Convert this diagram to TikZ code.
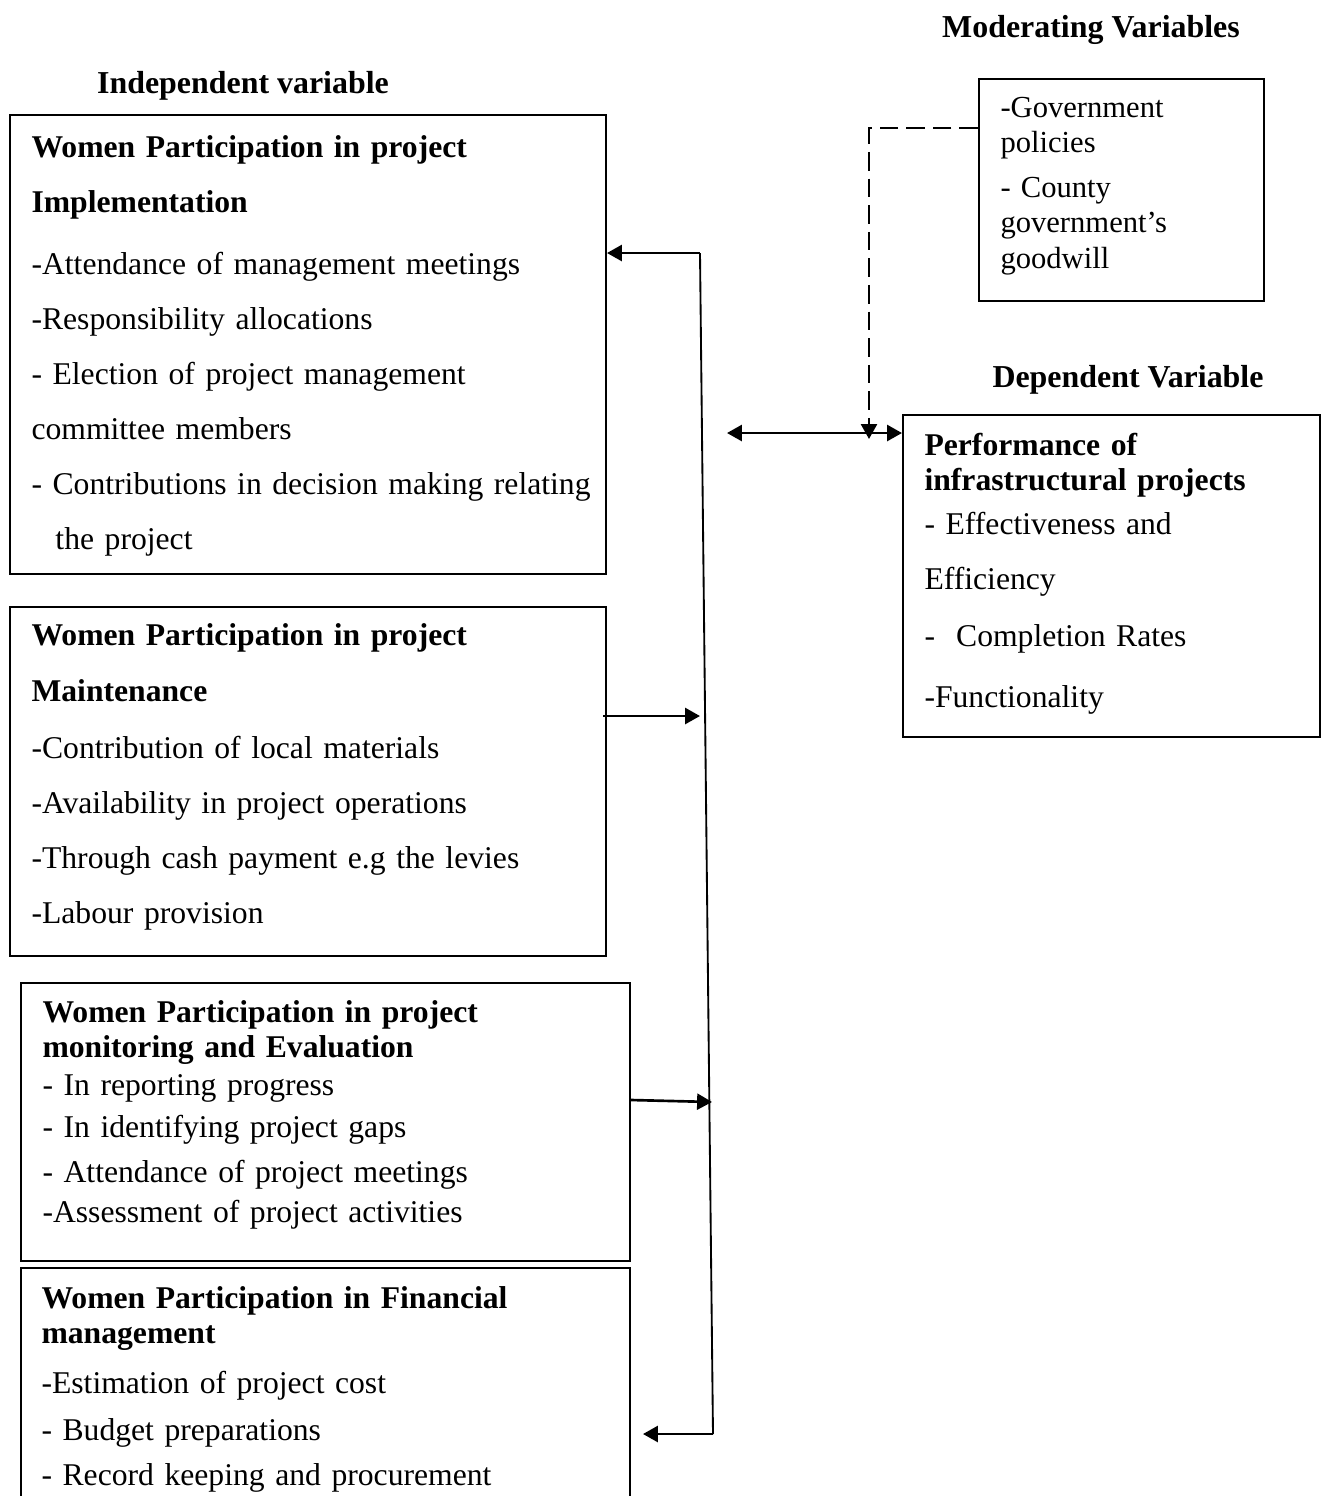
\documentclass[tikz,border=0pt]{standalone}
\usepackage{fontspec}
\setmainfont{Liberation Serif}
\usetikzlibrary{arrows.meta,fit}
\begin{document}
\begin{tikzpicture}[x = 0.376pt, y = -0.376pt]
\tikzstyle{mybox} = [draw, line width = 0.75pt, inner sep = 0 pt]
\tikzstyle{mytext} = [inner sep = 0 pt, anchor = base west, align = left, text width = 240pt, font = \fontsize{11.9}{20.7}\selectfont]
\tikzstyle{mytitle} = [inner sep = 0 pt, anchor = base, font = \fontsize{12}{14}\selectfont\bfseries]
\tikzset{myarrow/.style = {line width = 1pt, -{Triangle[length = 5.6pt, width = 6pt]}}, myline/.style = {line width = 0.7pt}, mydash/.style = {myarrow, line width = 0.9pt, dash pattern = on 7pt off 3pt}}
\clip (0,0) rectangle (1327,1496);

\node [mytitle] (indep) at (243,93) {Independent variable};
\node [mytitle] (moder) at (1091,37) {Moderating Variables};
\node [mytitle] (depen) at (1128,387) {Dependent Variable};

\node [mybox, fit = {(10,115) (606,574)}] (impl) {};
\node [mybox, fit = {(10,607) (606,956)}] (maint) {};
\node [mybox, fit = {(21,983) (630,1261)}] (me) {};
\node [mybox, fit = {(21,1268) (630,1510)}] (fin) {};
\node [mybox, fit = {(903,415) (1320,737)}] (perf) {};
\node [mybox, fit = {(979,79) (1264,301)}] (mod) {};

\node [mytext] (impltext) at (31,157) {\textbf{Women Participation in project}\\
\textbf{Implementation}\\[2.6pt]
-Attendance of management meetings\\
-Responsibility allocations\\
- Election of project management\\
committee members\\
- Contributions in decision making relating\\
\hspace*{9pt}the project};
\node [mytext] (mainttext) at (31,645) {\textbf{Women Participation in project}\\[0.7pt]
\textbf{Maintenance}\\[0.4pt]
-Contribution of local materials\\
-Availability in project operations\\
-Through cash payment e.g the levies\\
-Labour provision};
\node [mytext, font = \fontsize{11.9}{13.2}\selectfont] (metext) at (42,1022) {\textbf{Women Participation in project}\\
\textbf{monitoring and Evaluation}\\[1.1pt]
- In reporting progress\\[2.6pt]
- In identifying project gaps\\[3.7pt]
- Attendance of project meetings\\[1.8pt]
-Assessment of project activities};
\node [mytext, font = \fontsize{11.9}{13.2}\selectfont] (fintext) at (41,1308) {\textbf{Women Participation in Financial}\\
\textbf{management}\\[5.6pt]
-Estimation of project cost\\[4.8pt]
- Budget preparations\\[3.7pt]
- Record keeping and procurement};
\node [mytext, text width = 150pt, font = \fontsize{11.9}{13.5}\selectfont] (perftext) at (924,455) {\textbf{Performance of}\\
\textbf{infrastructural projects}\\[3pt]
- Effectiveness and\\[7.2pt]
Efficiency\\[7.9pt]
-\ \ Completion Rates\\[9.4pt]
-Functionality};
\node [mytext, text width = 100pt, font = \fontsize{11.5}{13.2}\selectfont] (modtext) at (1000,117) {-Government\\
policies\\[3.7pt]
- County\\[0.3pt]
government’s\\
goodwill};

\coordinate (jtop) at (700,253);
\coordinate (jbot) at (713,1434);
\coordinate (jm) at (700,716);
\coordinate (je) at (712,1102);
\coordinate (fintip) at (643,1434);
\coordinate (dl) at (727,433);
\coordinate (dbend) at (869,128);
\coordinate (dtip) at (869,439);

\draw [myline] (jtop) -- (jbot);
\draw [myarrow] (jtop) -- (impl.east |- jtop);
\draw [myarrow] (jbot) -- (fintip);
\draw [myarrow] ([xshift = -1.5pt]maint.east |- jm) -- (jm);
\draw [myarrow] (me.east |- 0,1100) -- (je);
\draw [myarrow, {Triangle[length = 5.6pt, width = 6pt]}-{Triangle[length = 5.6pt, width = 6pt]}] (dl) -- (perf.west |- dl);
\draw [mydash] (mod.west |- dbend) -- (dbend) -- (dtip);
\end{tikzpicture}
\end{document}
